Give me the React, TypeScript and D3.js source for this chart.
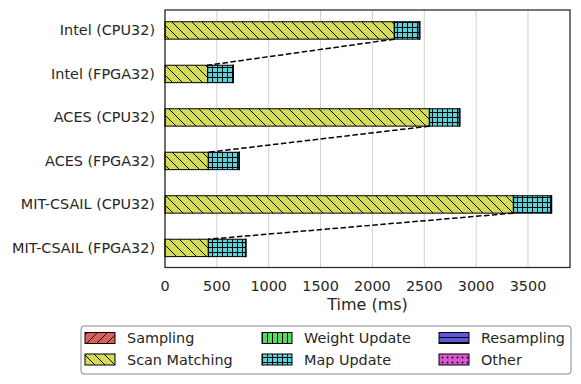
import React from 'react';
import * as d3 from 'd3';

const categories = [
  'Intel (CPU32)',
  'Intel (FPGA32)',
  'ACES (CPU32)',
  'ACES (FPGA32)',
  'MIT-CSAIL (CPU32)',
  'MIT-CSAIL (FPGA32)',
];

// time per stage in ms (small stages estimated, barely visible)
const sampling = [3, 1, 3, 1, 4, 1];
const scanMatching = [2208, 410, 2546, 417, 3355, 417];
const weightUpdate = [2, 1, 2, 1, 3, 1];
const mapUpdate = [239, 244, 287, 295, 359, 359];
const resampling = [1, 1, 1, 1, 1, 1];
const other = [6, 2, 6, 2, 7, 2];

const xTicks = [0, 500, 1000, 1500, 2000, 2500, 3000, 3500];

const stages = [
  { name: 'Sampling', values: sampling, color: '#db5f57', hatch: 'slash' },
  { name: 'Scan Matching', values: scanMatching, color: '#d3db57', hatch: 'backslash' },
  { name: 'Weight Update', values: weightUpdate, color: '#57db5f', hatch: 'vline' },
  { name: 'Map Update', values: mapUpdate, color: '#57d3db', hatch: 'plus' },
  { name: 'Resampling', values: resampling, color: '#5f57db', hatch: 'hline' },
  { name: 'Other', values: other, color: '#db57d3', hatch: 'dots' },
];

const W = 581;
const H = 384;
const font = "'DejaVu Sans', sans-serif";
const ink = '#262626';
const fs = 14.4;

function Patterns() {
  return (
    <defs>
      {stages.map((s) => {
        const id = 'p-' + s.hatch;
        if (s.hatch === 'slash')
          return (
            <pattern key={id} id={id} patternUnits="userSpaceOnUse" width={10} height={10}>
              <rect width={10} height={10} fill={s.color} />
              <path d="M-2,2 L2,-2 M0,10 L10,0 M8,12 L12,8" stroke="#000" strokeWidth={1} />
            </pattern>
          );
        if (s.hatch === 'backslash')
          return (
            <pattern key={id} id={id} patternUnits="userSpaceOnUse" width={10} height={10}>
              <rect width={10} height={10} fill={s.color} />
              <path d="M-2,8 L2,12 M0,0 L10,10 M8,-2 L12,2" stroke="#000" strokeWidth={1} />
            </pattern>
          );
        if (s.hatch === 'vline')
          return (
            <pattern key={id} id={id} patternUnits="userSpaceOnUse" width={5} height={5}>
              <rect width={5} height={5} fill={s.color} />
              <path d="M2.5,0 L2.5,5" stroke="#000" strokeWidth={1} />
            </pattern>
          );
        if (s.hatch === 'plus')
          return (
            <pattern key={id} id={id} patternUnits="userSpaceOnUse" width={5} height={5}>
              <rect width={5} height={5} fill={s.color} />
              <path d="M2.5,0 L2.5,5 M0,2.5 L5,2.5" stroke="#000" strokeWidth={1} />
            </pattern>
          );
        if (s.hatch === 'hline')
          return (
            <pattern key={id} id={id} patternUnits="userSpaceOnUse" width={5} height={5}>
              <rect width={5} height={5} fill={s.color} />
              <path d="M0,2.5 L5,2.5" stroke="#000" strokeWidth={1} />
            </pattern>
          );
        return (
          <pattern key={id} id={id} patternUnits="userSpaceOnUse" width={5} height={5}>
            <rect width={5} height={5} fill={s.color} />
            <circle cx={2.5} cy={2.5} r={0.9} fill="#000" />
          </pattern>
        );
      })}
    </defs>
  );
}

export default function App() {
  const x = d3.scaleLinear().domain([0, 3905]).range([165, 570]);
  const y = d3.scaleLinear().domain([-0.47, 5.45]).range([10, 267.5]);
  const barH = y(0.4) - y(0);

  // cumulative starts per category
  const stacks = categories.map((_, i) => {
    let acc = 0;
    return stages.map((s) => {
      const seg = { start: acc, end: acc + s.values[i], stage: s };
      acc += s.values[i];
      return seg;
    });
  });

  const scanEnd = categories.map((_, i) => sampling[i] + scanMatching[i]);

  return (
    <svg width={W} height={H} style={{ position: 'absolute', left: 0, top: 0, fontFamily: font }}>
      <Patterns />
      <rect width={W} height={H} fill="#fff" />

      {/* grid */}
      {xTicks.map((t) => (
        <line key={t} x1={x(t)} x2={x(t)} y1={10} y2={267.5} stroke="#d0d0d0" strokeWidth={1} />
      ))}

      {/* bars */}
      {stacks.map((segs, i) => (
        <g key={i}>
          {segs.map((sg, j) => (
            <rect
              key={j}
              x={x(sg.start)}
              y={y(i) - barH / 2}
              width={x(sg.end) - x(sg.start)}
              height={barH}
              fill={'url(#p-' + sg.stage.hatch + ')'}
              stroke="#000"
              strokeWidth={1}
            />
          ))}
        </g>
      ))}

      {/* dashed connectors CPU -> FPGA */}
      {[0, 2, 4].map((i) => (
        <line
          key={i}
          x1={x(scanEnd[i])}
          y1={y(i) + barH / 2}
          x2={x(scanEnd[i + 1])}
          y2={y(i + 1) - barH / 2}
          stroke="#000"
          strokeWidth={1.5}
          strokeDasharray="5.5,2.5"
        />
      ))}

      {/* frame */}
      <rect x={165} y={10} width={405} height={257.5} fill="none" stroke={ink} strokeWidth={1.25} />

      {/* y labels */}
      {categories.map((c, i) => (
        <text key={c} x={155} y={y(i)} dy="0.35em" textAnchor="end" fontSize={fs} fill={ink}>
          {c}
        </text>
      ))}

      {/* x tick labels */}
      {xTicks.map((t) => (
        <text key={t} x={x(t)} y={286} dy="0.35em" textAnchor="middle" fontSize={fs} fill={ink}>
          {t}
        </text>
      ))}
      <text x={x(0) + (570 - 165) / 2} y={304} dy="0.35em" textAnchor="middle" fontSize={16} fill={ink}>
        Time (ms)
      </text>

      {/* legend */}
      <rect x={81} y={326} width={490} height={48} rx={3} fill="#fff" stroke="#888" strokeWidth={1} />
      {stages.map((s, k) => {
        const col = Math.floor(k / 2);
        const row = k % 2;
        const px = [85, 262, 439][col];
        const cy = 338 + row * 21.5;
        return (
          <g key={s.name}>
            <rect x={px} y={cy - 5.5} width={30} height={11} fill={'url(#p-' + s.hatch + ')'} stroke="#000" strokeWidth={1} />
            <text x={px + 42} y={cy} dy="0.35em" fontSize={fs} fill={ink}>
              {s.name}
            </text>
          </g>
        );
      })}
    </svg>
  );
}
